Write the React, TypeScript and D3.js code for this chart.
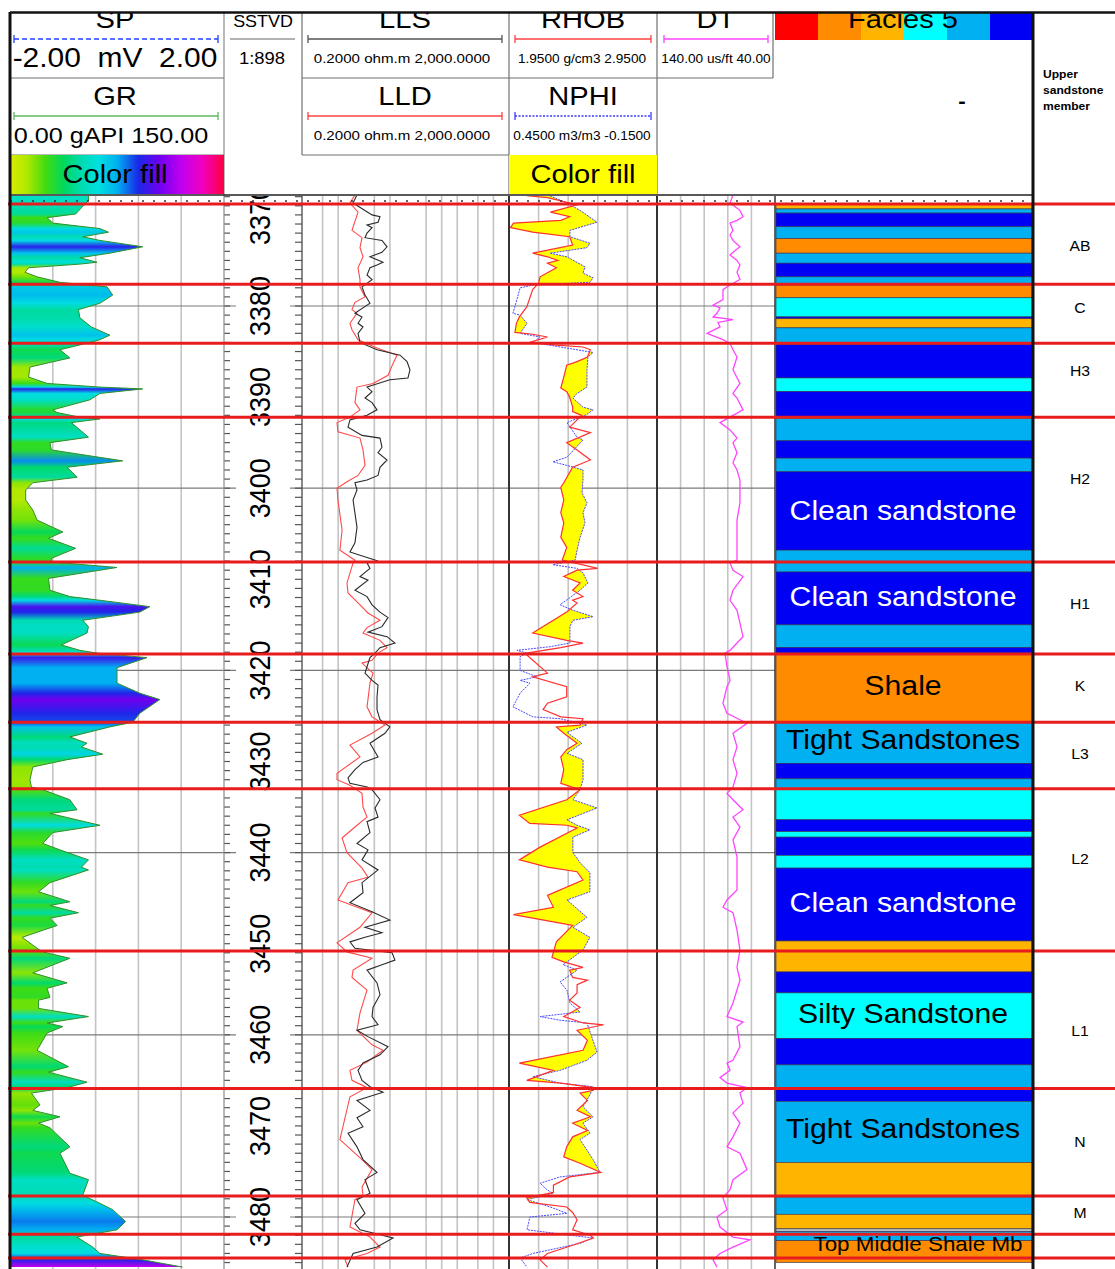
import * as d3 from "d3";

type P = [number, number];

// ---- curve data: [depth m, value] ----
const grData: P[] = [
  [3367.9, 55], [3368.4, 55], [3369.9, 46], [3370.3, 26], [3370.9, 30], [3371.5, 63], [3371.9, 69], [3372.4, 51], [3372.8, 63], [3373.5, 93],
  [3374.2, 70], [3374.7, 49], [3375.2, 61], [3375.4, 49], [3375.8, 13], [3376.3, 10.5], [3376.8, 19], [3377.4, 35], [3377.9, 68], [3378.8, 72],
  [3379.7, 63], [3380.4, 48], [3381.3, 49], [3382.3, 57], [3383.2, 70], [3383.7, 63], [3384.2, 51], [3384.8, 35], [3385.7, 42], [3386.7, 14],
  [3387.8, 13], [3388.5, 26], [3388.9, 63], [3389.1, 93], [3389.6, 63], [3390.3, 56], [3391.4, 30], [3391.7, 33], [3392.2, 49], [3392.4, 63],
  [3392.8, 43], [3394.4, 55], [3395.0, 28], [3395.8, 29], [3397.0, 79], [3397.7, 40], [3398.8, 47], [3399.4, 16], [3400.2, 11], [3401.3, 11],
  [3402.4, 16], [3403.5, 19], [3404.8, 37], [3405.5, 27], [3406.6, 46], [3407.7, 29], [3408.1, 29], [3408.7, 75], [3409.9, 27], [3411.2, 28],
  [3411.9, 42], [3412.3, 63], [3413.0, 98], [3413.6, 91], [3414.5, 51], [3415.2, 55], [3415.9, 54], [3417.2, 36], [3417.8, 49], [3418.1, 61],
  [3418.6, 96], [3419.7, 75], [3421.4, 75], [3422.5, 91], [3423.2, 105], [3424.7, 91], [3425.7, 86], [3426.2, 70], [3427.3, 42], [3428.0, 54],
  [3428.4, 50], [3429.2, 65], [3429.8, 40], [3430.6, 16], [3432.0, 14], [3432.8, 15], [3433.1, 23], [3434.2, 42], [3435.3, 47], [3435.7, 28],
  [3437.0, 63], [3437.8, 30], [3439.0, 23], [3439.7, 35], [3440.8, 55], [3441.6, 50], [3441.9, 55], [3443.3, 28], [3444.3, 20], [3445.4, 42],
  [3445.8, 28], [3446.6, 48], [3447.2, 28], [3448.0, 33], [3449.3, 8.5], [3450.5, 19], [3450.9, 23], [3451.6, 42], [3453.2, 16], [3454.3, 40],
  [3454.9, 26], [3455.9, 28], [3456.2, 20], [3457.1, 20], [3458.0, 55], [3458.7, 26], [3459.1, 37], [3459.8, 26], [3461.7, 19], [3463.5, 41],
  [3464.1, 27], [3465.2, 54], [3465.8, 40], [3466.4, 15], [3467.7, 21], [3468.3, 16], [3469.0, 35], [3469.7, 20], [3470.2, 28], [3472.3, 42],
  [3473.0, 35], [3475.2, 42], [3475.9, 55], [3477.6, 51], [3478.5, 63], [3479.2, 72], [3480.5, 81], [3481.4, 75], [3482.2, 47], [3483.3, 58],
  [3484.0, 63], [3484.7, 93], [3485.5, 121],
];

const llsData: P[] = [
  [3367.8, 2.31], [3368.7, 1.94], [3370.0, 4.51], [3370.2, 6.43], [3370.8, 5.89], [3371.1, 3.61], [3371.4, 4.51], [3372.0, 3.61], [3372.5, 3.3], [3372.8, 7.03],
  [3373.5, 8.79], [3374.1, 7.03], [3374.6, 4.12], [3375.2, 7.35], [3375.5, 5.63], [3375.8, 4.12], [3376.6, 3.61], [3377.1, 4.51], [3377.9, 2.89], [3378.8, 3.3],
  [3379.7, 4.12], [3379.9, 3.61], [3380.8, 2.11], [3381.2, 2.89], [3381.9, 2.42], [3382.3, 3.02], [3383.0, 2.42], [3384.0, 2.64], [3384.8, 5.63], [3385.4, 15.7],
  [3386.1, 21.4], [3387.0, 24.4], [3387.9, 22.3], [3388.1, 10.0], [3388.9, 3.61], [3389.4, 4.51], [3390.1, 3.3], [3390.6, 4.51], [3391.4, 5.63], [3392.0, 3.61],
  [3392.5, 1.69], [3393.3, 1.55], [3394.2, 2.89], [3394.5, 6.43], [3395.5, 7.03], [3396.1, 5.89], [3396.9, 8.79], [3397.7, 6.43], [3398.6, 5.89], [3399.1, 3.61],
  [3399.4, 2.11], [3400.2, 2.31], [3401.3, 1.94], [3404.3, 2.31], [3406.0, 2.11], [3407.0, 1.69], [3407.6, 3.61], [3408.0, 5.89], [3408.2, 3.61], [3408.8, 4.12],
  [3409.7, 2.64], [3410.1, 3.77], [3411.2, 2.11], [3411.9, 3.61], [3412.8, 4.51], [3413.6, 6.43], [3414.2, 9.19], [3415.2, 7.03], [3415.8, 3.77], [3416.3, 8.79],
  [3417.0, 12.5], [3417.5, 6.43], [3418.1, 5.15], [3418.6, 4.12], [3419.6, 3.61], [3420.3, 3.3], [3421.1, 4.51], [3421.6, 5.89], [3422.9, 5.63], [3424.3, 5.63],
  [3425.4, 6.43], [3426.2, 10.0], [3426.9, 8.03], [3428.0, 4.12], [3429.5, 5.89], [3430.1, 3.02], [3430.9, 2.11], [3431.8, 1.55], [3432.4, 1.69], [3432.8, 3.61],
  [3433.1, 4.51], [3434.2, 6.43], [3435.1, 5.15], [3436.1, 5.89], [3436.6, 3.61], [3437.8, 4.12], [3439.0, 2.31], [3439.7, 3.77], [3440.8, 2.89], [3441.9, 5.89],
  [3443.3, 2.89], [3444.4, 3.02], [3445.5, 1.69], [3446.5, 4.51], [3447.4, 10.0], [3448.2, 3.3], [3448.8, 7.03], [3449.3, 3.3], [3449.8, 1.69], [3450.5, 2.11],
  [3451.0, 11.0], [3451.8, 12.5], [3452.3, 7.03], [3452.9, 3.61], [3454.3, 5.63], [3455.6, 6.43], [3457.0, 4.71], [3458.0, 4.51], [3458.9, 5.89], [3459.5, 2.31],
  [3460.2, 3.77], [3461.3, 9.19], [3462.2, 6.43], [3463.1, 3.02], [3463.9, 2.42], [3465.0, 2.89], [3465.7, 4.12], [3466.3, 7.35], [3467.2, 2.31], [3468.3, 4.12],
  [3469.1, 2.31], [3470.1, 3.02], [3470.8, 1.55], [3472.3, 2.31], [3473.7, 3.02], [3475.1, 5.63], [3475.9, 3.3], [3477.4, 4.12], [3478.1, 2.31], [3479.6, 3.3],
  [3480.7, 2.11], [3481.4, 2.64], [3482.3, 11.5], [3483.3, 5.63], [3484.0, 1.94], [3485.5, 1.48],
];

const lldData: P[] = [
  [3367.8, 2.11], [3368.7, 1.69], [3369.7, 2.42], [3371.7, 1.85], [3372.5, 2.89], [3373.6, 2.64], [3374.6, 3.02], [3375.8, 2.42], [3377.1, 2.64], [3377.9, 2.64],
  [3379.0, 3.3], [3379.6, 2.11], [3380.4, 1.85], [3380.8, 2.31], [3381.9, 1.69], [3382.6, 1.85], [3383.7, 2.42], [3384.6, 5.63], [3385.4, 13.7], [3386.3, 11.5],
  [3387.6, 9.19], [3388.5, 4.71], [3388.9, 2.31], [3390.6, 2.11], [3391.4, 2.64], [3392.2, 1.69], [3392.8, 0.95], [3393.8, 0.99], [3394.5, 2.64], [3395.8, 3.02],
  [3397.5, 3.3], [3398.6, 2.42], [3399.3, 1.48], [3400.0, 0.95], [3401.3, 0.99], [3404.6, 1.19], [3406.8, 1.08], [3407.9, 2.11], [3408.2, 1.94], [3410.4, 1.48],
  [3411.5, 1.55], [3412.6, 2.42], [3413.7, 3.77], [3414.5, 6.43], [3415.3, 3.61], [3415.9, 3.02], [3416.7, 6.43], [3417.5, 8.79], [3418.1, 5.89], [3418.9, 4.51],
  [3419.2, 2.89], [3420.3, 4.71], [3421.4, 4.12], [3424.0, 3.61], [3425.1, 4.51], [3426.0, 8.03], [3426.9, 4.51], [3428.2, 1.69], [3429.5, 2.64], [3431.3, 0.95],
  [3432.0, 0.95], [3432.6, 1.69], [3433.5, 2.89], [3435.0, 3.02], [3436.1, 3.61], [3437.0, 2.31], [3438.4, 1.19], [3440.0, 1.48], [3441.7, 2.89], [3442.7, 3.77],
  [3443.3, 1.55], [3445.2, 0.99], [3446.6, 4.51], [3448.2, 2.64], [3449.9, 0.95], [3450.9, 1.48], [3451.6, 4.51], [3452.9, 1.94], [3453.7, 1.85], [3455.1, 3.61],
  [3457.6, 2.64], [3459.5, 2.31], [3461.1, 4.51], [3461.7, 7.35], [3463.0, 3.61], [3463.9, 1.69], [3465.0, 1.85], [3465.8, 3.61], [3466.8, 1.69], [3471.5, 1.08],
  [3473.7, 2.89], [3474.8, 4.51], [3476.7, 2.89], [3477.6, 3.02], [3478.1, 2.11], [3481.1, 1.69], [3482.2, 4.12], [3483.3, 6.43], [3484.0, 3.61], [3484.7, 1.36],
  [3485.5, 1.55],
];

const rhobData: P[] = [
  [3367.9, 2.07], [3368.1, 2.21], [3368.9, 2.41], [3369.7, 2.23], [3370.2, 2.36], [3370.6, 2.3], [3370.9, 1.98], [3371.4, 1.96], [3371.9, 2.11], [3372.4, 2.36],
  [3373.3, 2.38], [3374.2, 2.11], [3374.6, 2.21], [3375.0, 2.28], [3375.3, 2.21], [3375.8, 2.27], [3376.8, 2.16], [3377.5, 2.15], [3378.2, 2.11], [3380.1, 2.07],
  [3381.2, 2.02], [3381.9, 2.0], [3382.9, 1.99], [3383.1, 2.11], [3383.4, 2.21], [3384.0, 2.09], [3384.3, 2.27], [3384.5, 2.45], [3384.8, 2.5], [3385.6, 2.48],
  [3386.1, 2.41], [3386.5, 2.34], [3387.8, 2.32], [3389.0, 2.3], [3389.4, 2.34], [3390.0, 2.36], [3391.1, 2.38], [3391.6, 2.38], [3392.0, 2.44], [3392.5, 2.41],
  [3393.3, 2.36], [3393.9, 2.5], [3395.0, 2.34], [3395.8, 2.41], [3396.9, 2.5], [3397.7, 2.38], [3399.4, 2.32], [3399.9, 2.3], [3401.3, 2.32], [3402.7, 2.3],
  [3403.8, 2.32], [3405.4, 2.3], [3406.5, 2.34], [3407.9, 2.31], [3408.8, 2.55], [3409.0, 2.41], [3409.7, 2.32], [3410.4, 2.43], [3411.2, 2.38], [3411.9, 2.45],
  [3412.3, 2.38], [3412.6, 2.41], [3413.6, 2.34], [3415.9, 2.11], [3416.7, 2.34], [3417.0, 2.45], [3417.5, 2.3], [3418.1, 2.07], [3418.3, 2.07], [3420.3, 2.21],
  [3420.7, 2.11], [3421.8, 2.34], [3422.9, 2.34], [3423.6, 2.21], [3424.3, 2.18], [3425.1, 2.3], [3425.3, 2.45], [3426.0, 2.43], [3426.2, 2.27], [3426.9, 2.32],
  [3428.0, 2.41], [3428.7, 2.34], [3429.5, 2.3], [3430.9, 2.32], [3432.4, 2.3], [3433.1, 2.43], [3434.2, 2.34], [3435.9, 2.02], [3436.8, 2.09], [3437.0, 2.34],
  [3437.3, 2.41], [3439.4, 2.16], [3440.8, 2.02], [3441.6, 2.21], [3442.1, 2.41], [3443.0, 2.45], [3444.7, 2.21], [3446.0, 2.25], [3446.8, 1.98], [3447.6, 2.25],
  [3448.0, 2.38], [3449.8, 2.27], [3451.5, 2.24], [3452.0, 2.32], [3452.6, 2.45], [3452.9, 2.36], [3453.7, 2.38], [3454.0, 2.48], [3454.5, 2.41], [3455.4, 2.41],
  [3456.2, 2.36], [3457.0, 2.43], [3458.0, 2.32], [3458.7, 2.45], [3458.9, 2.59], [3459.5, 2.41], [3460.6, 2.48], [3461.7, 2.45], [3463.1, 2.02], [3463.9, 2.25],
  [3465.0, 2.07], [3465.3, 2.3], [3465.8, 2.52], [3466.1, 2.52], [3466.4, 2.43], [3467.2, 2.48], [3468.3, 2.41], [3469.0, 2.5], [3469.7, 2.38], [3470.5, 2.48],
  [3471.2, 2.38], [3472.3, 2.34], [3473.4, 2.32], [3474.1, 2.43], [3475.1, 2.57], [3475.6, 2.36], [3476.5, 2.25], [3477.3, 2.25], [3477.9, 2.07], [3478.4, 2.09],
  [3478.9, 2.34], [3479.5, 2.38], [3480.3, 2.41], [3481.4, 2.38], [3482.0, 2.5], [3482.3, 2.52], [3483.1, 2.38], [3484.0, 2.21], [3484.7, 2.16], [3485.5, 2.21],
];

const nphiData: P[] = [
  [3367.9, 0.284], [3368.7, 0.215], [3369.5, 0.162], [3370.8, 0.093], [3371.7, 0.203], [3372.4, 0.203], [3373.1, 0.122], [3373.6, 0.134], [3374.2, 0.284], [3374.6, 0.215],
  [3375.7, 0.142], [3376.4, 0.15], [3376.9, 0.109], [3377.4, 0.122], [3377.7, 0.353], [3378.0, 0.405], [3379.3, 0.418], [3380.8, 0.434], [3381.0, 0.405], [3381.9, 0.377],
  [3383.0, 0.405], [3383.4, 0.324], [3384.0, 0.353], [3385.1, 0.109], [3385.6, 0.13], [3387.0, 0.134], [3388.9, 0.134], [3389.6, 0.174], [3390.1, 0.191], [3391.1, 0.15],
  [3391.4, 0.109], [3391.9, 0.134], [3392.8, 0.215], [3394.4, 0.174], [3394.7, 0.15], [3396.6, 0.215], [3397.1, 0.272], [3397.5, 0.215], [3398.0, 0.15], [3399.1, 0.15],
  [3400.5, 0.154], [3401.6, 0.134], [3402.7, 0.15], [3403.8, 0.142], [3405.4, 0.162], [3406.8, 0.174], [3407.9, 0.182], [3408.4, 0.272], [3408.8, 0.174], [3409.3, 0.15],
  [3410.4, 0.13], [3411.2, 0.162], [3412.8, 0.243], [3413.4, 0.191], [3414.1, 0.109], [3414.5, 0.191], [3415.2, 0.203], [3417.0, 0.203], [3417.4, 0.284], [3417.8, 0.418],
  [3418.1, 0.377], [3418.5, 0.405], [3420.0, 0.405], [3420.7, 0.336], [3421.1, 0.405], [3421.4, 0.365], [3422.5, 0.405], [3424.0, 0.434], [3425.1, 0.353], [3425.3, 0.243],
  [3426.0, 0.134], [3426.8, 0.215], [3428.0, 0.154], [3429.1, 0.215], [3429.8, 0.15], [3432.0, 0.15], [3433.1, 0.162], [3434.2, 0.191], [3435.1, 0.093], [3436.4, 0.215],
  [3437.0, 0.174], [3437.5, 0.122], [3438.3, 0.191], [3440.0, 0.191], [3441.1, 0.162], [3442.2, 0.122], [3444.3, 0.122], [3445.2, 0.215], [3447.1, 0.134], [3448.2, 0.191],
  [3449.3, 0.122], [3450.7, 0.15], [3452.0, 0.215], [3452.3, 0.231], [3452.9, 0.174], [3454.2, 0.243], [3455.1, 0.215], [3456.5, 0.203], [3457.5, 0.162], [3458.0, 0.324],
  [3458.4, 0.243], [3458.7, 0.134], [3461.9, 0.093], [3462.8, 0.134], [3463.9, 0.243], [3464.6, 0.353], [3465.3, 0.243], [3465.7, 0.109], [3466.6, 0.122], [3467.9, 0.15],
  [3469.0, 0.109], [3469.7, 0.15], [3470.8, 0.122], [3471.5, 0.162], [3473.7, 0.109], [3475.1, 0.081], [3475.6, 0.243], [3476.3, 0.324], [3477.0, 0.296], [3477.4, 0.272],
  [3478.1, 0.377], [3479.0, 0.272], [3479.6, 0.215], [3480.0, 0.365], [3481.4, 0.377], [3482.0, 0.203], [3482.3, 0.109], [3482.9, 0.162], [3484.0, 0.353], [3484.5, 0.405],
  [3485.5, 0.377],
];

const dtData: P[] = [
  [3367.8, 75.6], [3368.7, 78.1], [3369.5, 69.7], [3370.2, 67.1], [3370.6, 72.2], [3370.9, 78.1], [3371.7, 75.6], [3372.2, 78.1], [3372.8, 75.6], [3373.5, 69.7],
  [3374.1, 75.6], [3374.4, 78.1], [3375.0, 72.2], [3375.5, 69.7], [3376.3, 72.2], [3377.1, 69.7], [3377.7, 78.1], [3378.2, 84.1], [3379.3, 84.1], [3379.9, 92.5],
  [3380.2, 86.6], [3380.8, 89.2], [3381.2, 92.5], [3381.5, 75.6], [3381.8, 88.3], [3382.3, 86.6], [3383.0, 97.6], [3383.7, 84.1], [3384.1, 78.1], [3384.8, 75.6],
  [3385.6, 72.2], [3387.0, 75.6], [3388.5, 69.7], [3389.6, 75.6], [3390.1, 72.2], [3391.4, 67.1], [3392.2, 78.1], [3392.8, 86.6], [3393.6, 78.1], [3394.5, 72.2],
  [3395.0, 75.6], [3396.1, 72.2], [3397.2, 75.6], [3398.0, 72.2], [3399.1, 69.7], [3400.2, 69.7], [3401.6, 69.7], [3403.5, 72.2], [3407.9, 72.2], [3408.2, 78.1],
  [3409.0, 75.6], [3409.7, 67.1], [3411.2, 75.6], [3412.3, 78.1], [3413.4, 72.2], [3414.8, 69.7], [3416.3, 67.1], [3417.0, 72.2], [3417.8, 78.1], [3418.1, 82.4],
  [3419.6, 80.7], [3421.1, 78.1], [3421.8, 80.7], [3423.6, 84.1], [3424.7, 80.7], [3425.8, 63.7], [3426.9, 75.6], [3428.4, 72.2], [3429.8, 75.6], [3431.3, 72.2],
  [3432.8, 75.6], [3433.5, 80.7], [3434.2, 75.6], [3435.3, 67.1], [3436.1, 75.6], [3437.2, 69.7], [3438.6, 75.6], [3440.5, 72.2], [3442.7, 72.2], [3444.1, 72.2],
  [3445.2, 80.7], [3446.0, 84.1], [3446.6, 75.6], [3448.5, 72.2], [3450.7, 69.7], [3452.6, 72.2], [3454.0, 69.7], [3456.5, 75.6], [3458.0, 80.7], [3458.6, 67.1],
  [3459.1, 72.2], [3461.3, 69.7], [3462.8, 75.6], [3463.1, 80.7], [3463.9, 78.1], [3464.7, 86.6], [3465.3, 80.7], [3465.8, 63.7], [3466.4, 69.7], [3467.5, 67.1],
  [3468.6, 75.6], [3469.7, 69.7], [3471.2, 75.6], [3472.3, 80.7], [3473.0, 69.7], [3474.8, 63.7], [3475.9, 75.6], [3477.0, 78.1], [3477.9, 84.1], [3479.2, 80.7],
  [3480.0, 89.2], [3481.1, 86.6], [3482.2, 75.6], [3482.5, 61.2], [3483.3, 75.6], [3484.0, 86.6], [3484.7, 92.5], [3485.5, 89.2],
];

// ---- zones ----
const zoneTops = [3368.8, 3377.6, 3384.1, 3392.2, 3408.1, 3418.2, 3425.7, 3433.0, 3450.8, 3465.9, 3477.7, 3481.9, 3484.5];
const zoneNames = ["AB", "C", "H3", "H2", "H1", "K", "L3", "L2", "L1", "N", "M"];
const zoneLabelDepths = [3373.4, 3380.2, 3387.1, 3398.9, 3412.7, 3421.7, 3429.1, 3440.7, 3459.5, 3471.7, 3479.5];

// ---- facies (0 red, 1 orange, 2 amber, 3 cyan, 4 light blue, 5 blue, 6 grey) ----
const faciesColors = ["#ff0000", "#ff8c00", "#ffb400", "#00ffff", "#00b0f0", "#0000f5", "#c0c0c0"];
const faciesTops = [
  3368.8, 3369.35, 3369.8, 3371.3, 3372.6, 3374.2, 3375.3, 3376.8, 3377.7, 3379.1,
  3381.2, 3381.4, 3382.4, 3384.2, 3387.9, 3389.4, 3392.3, 3394.8, 3396.7, 3398.2,
  3406.8, 3409.2, 3415.0, 3417.5, 3418.1, 3425.7, 3430.2, 3431.9, 3433.0, 3436.4,
  3437.7, 3438.3, 3440.3, 3441.7, 3449.7, 3453.1, 3455.4, 3460.4, 3463.3, 3465.8,
  3467.3, 3474.0, 3477.8, 3479.7, 3481.3, 3481.6, 3482.6,
];
const faciesBase = 3485.0;
const faciesCodes = [
  2, 4, 5, 4, 1, 4, 5, 4, 1, 3,
  5, 2, 4, 5, 3, 5, 4, 5, 4, 5,
  4, 5, 4, 5, 1, 4, 5, 4, 3, 5,
  3, 5, 3, 5, 2, 5, 3, 5, 4, 5,
  4, 2, 4, 2, 6, 4, 1,
];
const faciesLabelTexts = ["Clean sandstone", "Clean sandstone", "Shale", "Tight Sandstones", "Clean sandstone", "Silty Sandstone", "Tight Sandstones", "Top Middle Shale Mb"];
const faciesLabelDepths = [3402.4, 3411.9, 3421.6, 3427.6, 3445.5, 3457.6, 3470.3, 3482.9];

const depthLabels = d3.range(3370, 3490, 10);
const resGrid = [0.5, 1, 5, 10, 50, 100, 200, 500, 1000];

// ---- layout ----
const W = 1115;
const H = 1269;
const TRACK_TOP = 196;
const FONT = "'Liberation Sans', Arial, Helvetica, sans-serif";
const SX = 1.12;

const y = d3.scaleLinear().domain([3380, 3480]).range([306, 1217]);
const grX = d3.scaleLinear().domain([0, 150]).range([10, 224]);
const resX = d3.scaleLog().domain([0.2, 2000]).range([302, 509]);
const rhobX = d3.scaleLinear().domain([1.95, 2.95]).range([509, 657]);
const nphiX = d3.scaleLinear().domain([0.45, -0.15]).range([509, 657]);
const dtX = d3.scaleLinear().domain([140, 40]).range([657, 775]);

const grColor = d3
  .scaleLinear<string>()
  .domain([0, 12, 25, 38, 50, 62, 75, 90, 105, 120, 135, 150])
  .range(["#d8ec00", "#b0e800", "#40dc10", "#00d860", "#00dcb0", "#00e0e0", "#00b0f0", "#1a28e8", "#7000f0", "#c000f0", "#f000c0", "#ff0040"]);

function Txt({ x, y, size, text, anchor = "middle", fill = "#000", weight = "normal", sx = SX, rotate = 0 }: any) {
  const tr = `translate(${x},${y}) scale(${sx},1)` + (rotate ? ` rotate(${rotate})` : "");
  return (
    <text transform={tr} textAnchor={anchor} fontSize={size} fontFamily={FONT} fill={fill} fontWeight={weight} style={{ whiteSpace: "pre" }}>
      {text}
    </text>
  );
}

function LegendLine({ x1, x2, yy, color, dash }: any) {
  return (
    <g stroke={color} strokeWidth={1.3}>
      <line x1={x1} x2={x2} y1={yy} y2={yy} strokeDasharray={dash} />
      <line x1={x1} x2={x1} y1={yy - 4} y2={yy + 4} />
      <line x1={x2} x2={x2} y1={yy - 4} y2={yy + 4} />
    </g>
  );
}

function curve(sx: (v: number) => number) {
  return d3.line<P>().x((d) => sx(d[1])).y((d) => y(d[0]));
}

export default function App() {
  const grArea = d3.area<P>().x0(grX(0)).x1((d) => grX(d[1])).y((d) => y(d[0]));
  const nphiClipArea = d3.area<P>().x0(509).x1((d) => nphiX(d[1])).y((d) => y(d[0]));
  const rhobFillArea = d3.area<P>().x0((d) => rhobX(d[1])).x1(657).y((d) => y(d[0]));

  const g0 = y(grData[0][0]);
  const g1 = y(grData[grData.length - 1][0]);

  const depthTicks = d3.range(3368, 3486, 1);
  const majorLines = d3.range(3380, 3486, 20);

  const faciesAt = (d: number) => {
    const i = d3.bisectRight(faciesTops, d) - 1;
    return faciesCodes[Math.max(0, i)];
  };

  return (
    <div style={{ position: "absolute", left: 0, top: 0 }}>
      <svg width={W} height={H} viewBox={`0 0 ${W} ${H}`}>
        <defs>
          <clipPath id="trackClip">
            <rect x={0} y={TRACK_TOP} width={W} height={H - TRACK_TOP} />
          </clipPath>
          <clipPath id="nphiClip">
            <path d={nphiClipArea(nphiData) || ""} />
          </clipPath>
          <linearGradient id="grGrad" gradientUnits="userSpaceOnUse" x1={0} x2={0} y1={g0} y2={g1}>
            {grData.map((d, i) => (
              <stop key={i} offset={(y(d[0]) - g0) / (g1 - g0)} stopColor={grColor(d[1])} />
            ))}
          </linearGradient>
          <linearGradient id="grHeadGrad" gradientUnits="userSpaceOnUse" x1={grX(0)} x2={grX(150)} y1={0} y2={0}>
            {grColor.domain().map((v, i) => (
              <stop key={i} offset={v / 150} stopColor={grColor(v)} />
            ))}
          </linearGradient>
        </defs>

        <rect x={0} y={0} width={W} height={H} fill="#fff" />

        <g clipPath="url(#trackClip)">
          {/* vertical grids */}
          <g stroke="#c4c4c4" strokeWidth={1.6}>
            {[30, 60, 90, 120].map((v) => (
              <line key={"g" + v} x1={grX(v)} x2={grX(v)} y1={TRACK_TOP} y2={H} />
            ))}
            {resGrid.map((v) => (
              <line key={"r" + v} x1={resX(v)} x2={resX(v)} y1={TRACK_TOP} y2={H} />
            ))}
            {[2.15, 2.35, 2.55, 2.75].map((v) => (
              <line key={"d" + v} x1={rhobX(v)} x2={rhobX(v)} y1={TRACK_TOP} y2={H} />
            ))}
            {[120, 100, 80, 60].map((v) => (
              <line key={"t" + v} x1={dtX(v)} x2={dtX(v)} y1={TRACK_TOP} y2={H} />
            ))}
          </g>
          {/* 20 m lines */}
          <g stroke="#7a7a7a" strokeWidth={1.2}>
            {majorLines.map((d) => (
              <g key={d}>
                <line x1={10} x2={236} y1={y(d)} y2={y(d)} />
                <line x1={290} x2={775} y1={y(d)} y2={y(d)} />
              </g>
            ))}
          </g>

          {/* GR colour fill */}
          <path d={grArea(grData) || ""} fill="url(#grGrad)" />
          <path d={curve(grX)(grData) || ""} fill="none" stroke="#2f8f2f" strokeWidth={1} />

          {/* resistivity */}
          <path d={curve(resX)(lldData) || ""} fill="none" stroke="#ff4a4a" strokeWidth={1.1} />
          <path d={curve(resX)(llsData) || ""} fill="none" stroke="#2a2a2a" strokeWidth={1.1} />

          {/* density-neutron crossover fill */}
          <path d={rhobFillArea(rhobData) || ""} fill="#ffff00" clipPath="url(#nphiClip)" />
          <path d={curve(nphiX)(nphiData) || ""} fill="none" stroke="#4a4aff" strokeWidth={1} strokeDasharray="2,1" />
          <path d={curve(rhobX)(rhobData) || ""} fill="none" stroke="#ff3030" strokeWidth={1.2} />

          {/* DT */}
          <path d={curve(dtX)(dtData) || ""} fill="none" stroke="#ff44ff" strokeWidth={1.3} />

          {/* facies column */}
          {faciesTops.map((t, i) => {
            const b = i < faciesTops.length - 1 ? faciesTops[i + 1] : faciesBase;
            return (
              <rect key={i} x={776} y={y(t)} width={256} height={y(b) - y(t)} fill={faciesColors[faciesCodes[i]]} stroke="#303050" strokeWidth={0.6} />
            );
          })}
          {faciesLabelTexts.map((t, i) => {
            const small = t.length > 17;
            const size = small ? 20 : 27;
            return (
              <Txt
                key={i}
                x={small ? 918 : 903}
                y={y(faciesLabelDepths[i]) + size * 0.36}
                size={size}
                text={t}
                fill={faciesAt(faciesLabelDepths[i]) === 5 ? "#fff" : "#000"}
              />
            );
          })}

          {/* depth track */}
          <g stroke="#555" strokeWidth={1.2}>
            {depthTicks.map((d) => (
              <g key={d}>
                <line x1={224} x2={230} y1={y(d)} y2={y(d)} />
                <line x1={295} x2={302} y1={y(d)} y2={y(d)} />
              </g>
            ))}
          </g>
          {depthLabels.map((d) => (
            <Txt key={d} x={270} y={y(d)} size={27} text={String(d)} rotate={-90} />
          ))}

          {/* dotted top marker */}
          <line x1={10} x2={1033} y1={201} y2={201} stroke="#333" strokeWidth={1.6} strokeDasharray="2,9" />
        </g>

        {/* track separators */}
        <g>
          <line x1={224} x2={224} y1={12} y2={H} stroke="#8a8a8a" strokeWidth={1.2} />
          <line x1={302} x2={302} y1={TRACK_TOP} y2={H} stroke="#555" strokeWidth={1.4} />
          <line x1={509} x2={509} y1={TRACK_TOP} y2={H} stroke="#333" strokeWidth={2} />
          <line x1={657} x2={657} y1={TRACK_TOP} y2={H} stroke="#333" strokeWidth={2} />
          <line x1={775} x2={775} y1={TRACK_TOP} y2={H} stroke="#333" strokeWidth={1.5} />
          <line x1={10} x2={1033} y1={195} y2={195} stroke="#222" strokeWidth={1.5} />
        </g>

        {/* zone boundaries and names */}
        {zoneTops.map((t, i) => (
          <line key={i} x1={8} x2={W} y1={y(t)} y2={y(t)} stroke="#e81c1c" strokeWidth={3} />
        ))}
        {zoneNames.map((n, i) => (
          <Txt key={n} x={1080} y={y(zoneLabelDepths[i]) + 5.5} size={15} text={n} sx={1.05} />
        ))}

        {/* ---- header ---- */}
        <g stroke="#707070" strokeWidth={1.2} fill="none">
          <line x1={10} x2={224} y1={78} y2={78} />
          <line x1={10} x2={224} y1={155} y2={155} />
          <line x1={302} x2={302} y1={12} y2={155} />
          <line x1={302} x2={657} y1={78} y2={78} />
          <line x1={302} x2={509} y1={155} y2={155} />
          <line x1={509} x2={509} y1={12} y2={194} />
          <line x1={657} x2={657} y1={12} y2={194} />
          <line x1={657} x2={773} y1={78} y2={78} />
          <line x1={773} x2={773} y1={12} y2={78} />
        </g>

        <rect x={10} y={155} width={214} height={39} fill="url(#grHeadGrad)" />
        <rect x={509} y={155} width={148} height={39} fill="#ffff00" />
        {faciesColors.slice(0, 6).map((c, i) => (
          <rect key={c} x={775 + (i * 258) / 6} y={12} width={258 / 6 + 0.5} height={28} fill={c} />
        ))}

        <Txt x={115} y={28} size={26} text="SP" />
        <LegendLine x1={14} x2={218} yy={39} color="#2040ff" dash="5,3" />
        <Txt x={115} y={67} size={28} text={"-2.00  mV  2.00"} sx={1.07} />
        <Txt x={115} y={105} size={26} text="GR" />
        <LegendLine x1={14} x2={218} yy={116} color="#5cb85c" />
        <Txt x={111} y={143} size={22.5} text="0.00 gAPI 150.00" />
        <Txt x={115} y={183} size={26} text="Color fill" />

        <Txt x={263} y={27} size={16} text="SSTVD" />
        <line x1={230} x2={295} y1={39} y2={39} stroke="#666" strokeWidth={1.2} />
        <Txt x={262} y={64} size={16.5} text="1:898" />

        <Txt x={405} y={28} size={26} text="LLS" />
        <LegendLine x1={308} x2={502} yy={39} color="#555" />
        <Txt x={402} y={63} size={13.5} text="0.2000 ohm.m 2,000.0000" />
        <Txt x={405} y={105} size={26} text="LLD" />
        <LegendLine x1={308} x2={502} yy={116} color="#ff4040" />
        <Txt x={402} y={140} size={13.5} text="0.2000 ohm.m 2,000.0000" />

        <Txt x={583} y={28} size={26} text="RHOB" />
        <LegendLine x1={515} x2={651} yy={39} color="#ff4040" />
        <Txt x={582} y={63} size={12.2} text="1.9500 g/cm3 2.9500" />
        <Txt x={583} y={105} size={26} text="NPHI" />
        <LegendLine x1={515} x2={651} yy={116} color="#3a3aff" dash="2,1.5" />
        <Txt x={582} y={140} size={12.2} text="0.4500 m3/m3 -0.1500" />
        <Txt x={583} y={183} size={26} text="Color fill" />

        <Txt x={716} y={28} size={26} text="DT" />
        <LegendLine x1={664} x2={768} yy={39} color="#ff44ff" />
        <Txt x={716} y={63} size={12.2} text="140.00 us/ft 40.00" />

        <Txt x={903} y={28} size={26} text="Facies 5" />
        <Txt x={962} y={108} size={20} text="-" weight="bold" />

        <Txt x={1043} y={78} size={11.5} text="Upper" anchor="start" weight="bold" sx={1.05} />
        <Txt x={1043} y={94} size={11.5} text="sandstone" anchor="start" weight="bold" sx={1.05} />
        <Txt x={1043} y={110} size={11.5} text="member" anchor="start" weight="bold" sx={1.05} />

        {/* cropped top edge */}
        <rect x={0} y={0} width={W} height={12} fill="#fff" />
        <line x1={10} x2={W} y1={12.5} y2={12.5} stroke="#111" strokeWidth={2.5} />
        <line x1={10} x2={10} y1={12} y2={H} stroke="#111" strokeWidth={3} />
        <line x1={1033} x2={1033} y1={12} y2={H} stroke="#111" strokeWidth={3} />
      </svg>
    </div>
  );
}
